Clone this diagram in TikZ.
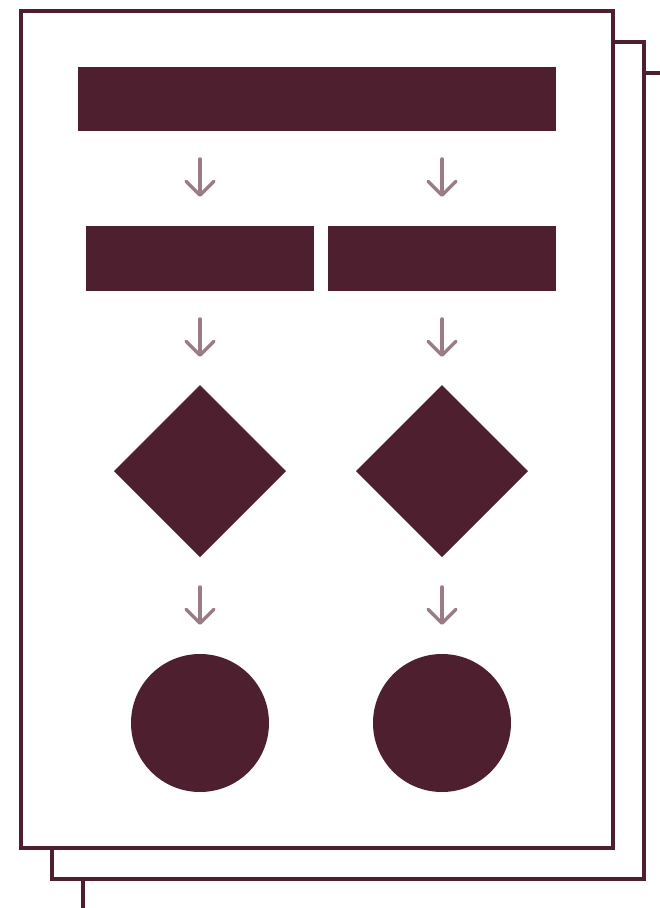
\documentclass[tikz,border=0pt]{standalone}
\usetikzlibrary{shapes.geometric,arrows.meta}
\definecolor{wine}{HTML}{4E1F2E}
\definecolor{mauve}{HTML}{9A7B87}
\begin{document}
\begin{tikzpicture}[x=1pt,y=-1pt,
  page/.style={draw=wine,line width=4pt,fill=white},
  blockbox/.style={fill=wine,inner sep=0pt,outer sep=0pt,draw=none},
  flowarrow/.style={draw=mauve,line width=3.5pt,line cap=round,
     -{Straight Barb[length=14pt,width=28pt,line cap=round,round]}}]
\useasboundingbox (0,0) rectangle (660,908);
\clip (0,0) rectangle (660,908);
% stacked pages
\draw[page] (83,73) rectangle (676,909.5);
\draw[page] (52,42) rectangle (644,879);
\draw[page] (21,11) rectangle (613,848);
% blocks
\node[blockbox,minimum width=478pt,minimum height=64pt] (top) at (317,99) {};
\node[blockbox,minimum width=228pt,minimum height=65pt] (midL) at (200,258.5) {};
\node[blockbox,minimum width=228pt,minimum height=65pt] (midR) at (442,258.5) {};
\node[blockbox,diamond,minimum width=172pt,minimum height=172pt] (diaL) at (200,471) {};
\node[blockbox,diamond,minimum width=172pt,minimum height=172pt] (diaR) at (442,471) {};
\node[blockbox,circle,minimum size=138pt] (cirL) at (200,723) {};
\node[blockbox,circle,minimum size=138pt] (cirR) at (442,723) {};
% arrow endpoints
\coordinate (a1s) at (200,159); \coordinate (a1e) at (200,197);
\coordinate (a2s) at (442,159); \coordinate (a2e) at (442,197);
\coordinate (b1s) at (200,319); \coordinate (b1e) at (200,357);
\coordinate (b2s) at (442,319); \coordinate (b2e) at (442,357);
\coordinate (c1s) at (200,587); \coordinate (c1e) at (200,625);
\coordinate (c2s) at (442,587); \coordinate (c2e) at (442,625);
\draw[flowarrow] (a1s) -- (a1e);
\draw[flowarrow] (a2s) -- (a2e);
\draw[flowarrow] (b1s) -- (b1e);
\draw[flowarrow] (b2s) -- (b2e);
\draw[flowarrow] (c1s) -- (c1e);
\draw[flowarrow] (c2s) -- (c2e);
\end{tikzpicture}
\end{document}
